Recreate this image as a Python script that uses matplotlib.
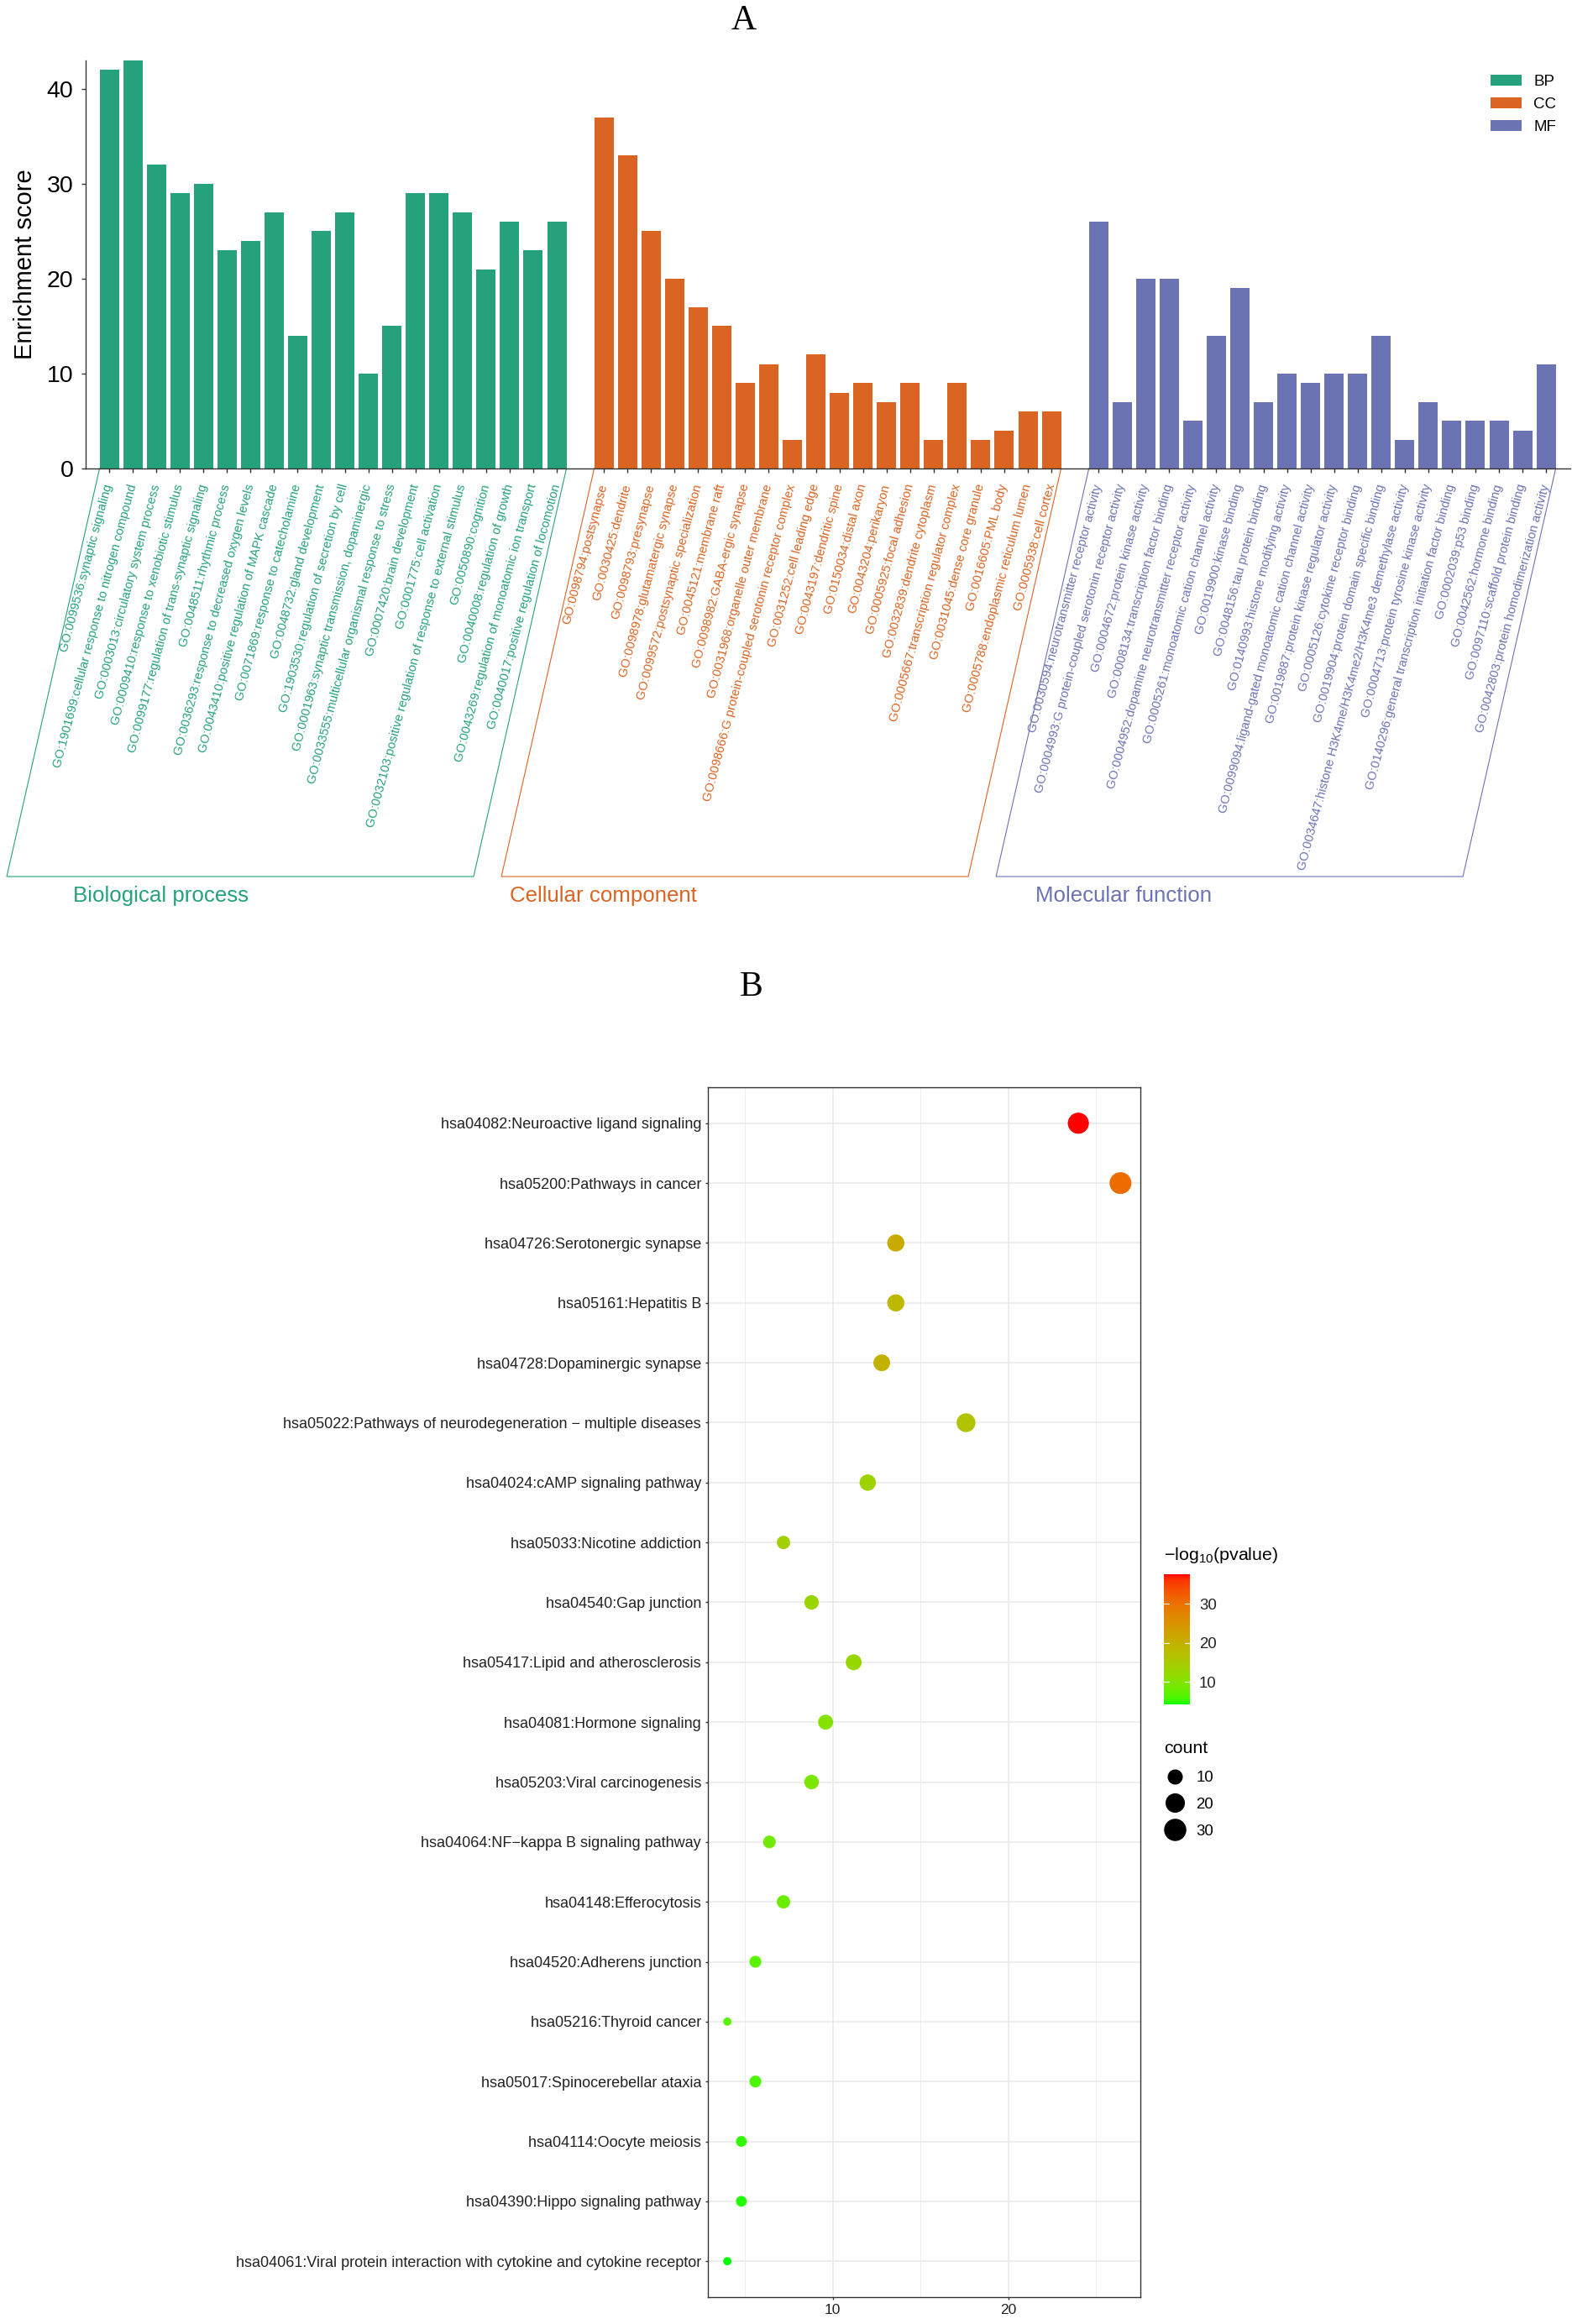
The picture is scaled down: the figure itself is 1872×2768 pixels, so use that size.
import numpy as np
import matplotlib
matplotlib.use("Agg")
import matplotlib.pyplot as plt
import matplotlib.transforms as mtransforms
from matplotlib.patches import Patch
from matplotlib.lines import Line2D
from matplotlib.colors import ListedColormap

plt.rcParams['font.family'] = ['Liberation Sans', 'DejaVu Sans']
plt.rcParams['mathtext.fontset'] = 'custom'
plt.rcParams['mathtext.rm'] = 'Liberation Sans'
plt.rcParams['mathtext.default'] = 'regular'

# ---------------- DATA : panel A (GO) ----------------
bp_terms = [
    "GO:0099536:synaptic signaling",
    "GO:1901699:cellular response to nitrogen compound",
    "GO:0003013:circulatory system process",
    "GO:0009410:response to xenobiotic stimulus",
    "GO:0099177:regulation of trans-synaptic signaling",
    "GO:0048511:rhythmic process",
    "GO:0036293:response to decreased oxygen levels",
    "GO:0043410:positive regulation of MAPK cascade",
    "GO:0071869:response to catecholamine",
    "GO:0048732:gland development",
    "GO:1903530:regulation of secretion by cell",
    "GO:0001963:synaptic transmission, dopaminergic",
    "GO:0033555:multicellular organismal response to stress",
    "GO:0007420:brain development",
    "GO:0001775:cell activation",
    "GO:0032103:positive regulation of response to external stimulus",
    "GO:0050890:cognition",
    "GO:0040008:regulation of growth",
    "GO:0043269:regulation of monoatomic ion transport",
    "GO:0040017:positive regulation of locomotion",
]
bp_scores = [42, 43, 32, 29, 30, 23, 24, 27, 14, 25, 27, 10, 15, 29, 29, 27, 21, 26, 23, 26]

cc_terms = [
    "GO:0098794:postsynapse",
    "GO:0030425:dendrite",
    "GO:0098793:presynapse",
    "GO:0098978:glutamatergic synapse",
    "GO:0099572:postsynaptic specialization",
    "GO:0045121:membrane raft",
    "GO:0098982:GABA-ergic synapse",
    "GO:0031968:organelle outer membrane",
    "GO:0098666:G protein-coupled serotonin receptor complex",
    "GO:0031252:cell leading edge",
    "GO:0043197:dendritic spine",
    "GO:0150034:distal axon",
    "GO:0043204:perikaryon",
    "GO:0005925:focal adhesion",
    "GO:0032839:dendrite cytoplasm",
    "GO:0005667:transcription regulator complex",
    "GO:0031045:dense core granule",
    "GO:0016605:PML body",
    "GO:0005788:endoplasmic reticulum lumen",
    "GO:0005938:cell cortex",
]
cc_scores = [37, 33, 25, 20, 17, 15, 9, 11, 3, 12, 8, 9, 7, 9, 3, 9, 3, 4, 6, 6]

mf_terms = [
    "GO:0030594:neurotransmitter receptor activity",
    "GO:0004993:G protein-coupled serotonin receptor activity",
    "GO:0004672:protein kinase activity",
    "GO:0008134:transcription factor binding",
    "GO:0004952:dopamine neurotransmitter receptor activity",
    "GO:0005261:monoatomic cation channel activity",
    "GO:0019900:kinase binding",
    "GO:0048156:tau protein binding",
    "GO:0140993:histone modifying activity",
    "GO:0099094:ligand-gated monoatomic cation channel activity",
    "GO:0019887:protein kinase regulator activity",
    "GO:0005126:cytokine receptor binding",
    "GO:0019904:protein domain specific binding",
    "GO:0034647:histone H3K4me/H3K4me2/H3K4me3 demethylase activity",
    "GO:0004713:protein tyrosine kinase activity",
    "GO:0140296:general transcription initiation factor binding",
    "GO:0002039:p53 binding",
    "GO:0042562:hormone binding",
    "GO:0097110:scaffold protein binding",
    "GO:0042803:protein homodimerization activity",
]
mf_scores = [26, 7, 20, 20, 5, 14, 19, 7, 10, 9, 10, 10, 14, 3, 7, 5, 5, 5, 4, 11]

group_keys = ["BP", "CC", "MF"]
group_names = ["Biological process", "Cellular component", "Molecular function"]
a_yticks = [0, 10, 20, 30, 40]

# ---------------- DATA : panel B (KEGG) ----------------
kegg_terms = [
    "hsa04082:Neuroactive ligand signaling",
    "hsa05200:Pathways in cancer",
    "hsa04726:Serotonergic synapse",
    "hsa05161:Hepatitis B",
    "hsa04728:Dopaminergic synapse",
    "hsa05022:Pathways of neurodegeneration \u2212 multiple diseases",
    "hsa04024:cAMP signaling pathway",
    "hsa05033:Nicotine addiction",
    "hsa04540:Gap junction",
    "hsa05417:Lipid and atherosclerosis",
    "hsa04081:Hormone signaling",
    "hsa05203:Viral carcinogenesis",
    "hsa04064:NF\u2212kappa B signaling pathway",
    "hsa04148:Efferocytosis",
    "hsa04520:Adherens junction",
    "hsa05216:Thyroid cancer",
    "hsa05017:Spinocerebellar ataxia",
    "hsa04114:Oocyte meiosis",
    "hsa04390:Hippo signaling pathway",
    "hsa04061:Viral protein interaction with cytokine and cytokine receptor",
]
kegg_x = [24.0, 26.4, 13.6, 13.6, 12.8, 17.6, 12.0, 7.2, 8.8, 11.2,
          9.6, 8.8, 6.4, 7.2, 5.6, 4.0, 5.6, 4.8, 4.8, 4.0]
kegg_count = [30, 33, 17, 17, 16, 22, 15, 9, 11, 14, 12, 11, 8, 9, 7, 5, 7, 6, 6, 5]
kegg_logp = [37.5, 30.5, 21.0, 18.5, 19.5, 16.5, 13.5, 14.0, 13.0, 12.5,
             10.5, 9.5, 8.5, 8.0, 7.0, 6.8, 6.2, 5.2, 4.8, 4.3]
b_xticks = [10, 20]
b_xminor = [5, 15, 25]
cbar_ticks = [10, 20, 30]
size_breaks = [10, 20, 30]

# ---------------- STYLE ----------------
W, H = 1872, 2768
colors = ['#25A17B', '#DA6422', '#6C73B3']
axis_col = '#333333'
BAR_W = 0.82


def fx(px):
    return px / W


def fy(px):
    return 1 - px / H


fig = plt.figure(figsize=(W / 100, H / 100), dpi=100)

# ================= PANEL A =================
axA = fig.add_axes([fx(102), fy(558), (1870 - 102) / W, (558 - 72) / H])
groups_terms = [bp_terms, cc_terms, mf_terms]
groups_scores = [bp_scores, cc_scores, mf_scores]
all_pos, all_labels, all_cols = [], [], []
start = 0
group_pos = []
for terms, scores, col in zip(groups_terms, groups_scores, colors):
    pos = np.arange(len(scores)) + start
    axA.bar(pos, scores, width=BAR_W, color=col, edgecolor='none', zorder=2)
    group_pos.append(pos)
    all_pos.extend(pos)
    all_labels.extend(terms)
    all_cols.extend([col] * len(terms))
    start += len(scores) + 1

axA.set_xlim(-1, all_pos[-1] + 1.03)
axA.set_ylim(0, max(max(s) for s in groups_scores))
for s in ['top', 'right']:
    axA.spines[s].set_visible(False)
for s in ['left', 'bottom']:
    axA.spines[s].set_color(axis_col)
    axA.spines[s].set_linewidth(1.0)
axA.set_yticks(a_yticks)
axA.tick_params(axis='y', labelsize=20.5, length=3.6, width=1, color=axis_col, pad=7)
axA.set_xticks(all_pos)
axA.set_xticklabels(all_labels, rotation=75, ha='right', va='center',
                    rotation_mode='anchor', fontsize=10.6)
axA.tick_params(axis='x', length=3.6, width=1, color=axis_col, pad=10)
for lab, col in zip(axA.get_xticklabels(), all_cols):
    lab.set_color(col)
axA.set_ylabel('Enrichment score', fontsize=21, labelpad=8)

blend = mtransforms.blended_transform_factory(axA.transData, axA.transAxes)
OFF = 3.94
text_x = [-1.55, 17.02, 39.31]
for pos, col, name, tx in zip(group_pos, colors, group_names, text_x):
    x0 = pos[0] - BAR_W / 2
    x1 = pos[-1] + BAR_W / 2
    axA.plot([x0, x0 - OFF, x1 - OFF, x1], [0, -1.0, -1.0, 0], color=col,
             lw=0.8, transform=blend, clip_on=False)
    axA.text(tx, -1.047, name, color=col, fontsize=18.6, ha='left', va='center',
             transform=blend)

handles = [Patch(facecolor=c, edgecolor='none') for c in colors]
axA.legend(handles, group_keys, loc='upper left', bbox_to_anchor=(fx(1775), fy(89)),
           bbox_transform=fig.transFigure, frameon=False, fontsize=13.5,
           handlelength=1.97, handleheight=0.69, labelspacing=0.52,
           handletextpad=0.77, borderpad=0, borderaxespad=0)

fig.text(fx(886), fy(25), 'A', ha='center', va='center', fontsize=30,
         family=['Liberation Serif', 'DejaVu Serif'])
fig.text(fx(895), fy(1176), 'B', ha='center', va='center', fontsize=30,
         family=['Liberation Serif', 'DejaVu Serif'])


# ================= PANEL B =================
def srgb2lab(c):
    c = np.asarray(c, float)
    lin = np.where(c <= 0.04045, c / 12.92, ((c + 0.055) / 1.055) ** 2.4)
    M = np.array([[0.4124, 0.3576, 0.1805], [0.2126, 0.7152, 0.0722], [0.0193, 0.1192, 0.9505]])
    xyz = M @ lin / np.array([0.95047, 1.0, 1.08883])
    f = np.where(xyz > 0.008856, np.cbrt(xyz), 7.787 * xyz + 16 / 116)
    return np.array([116 * f[1] - 16, 500 * (f[0] - f[1]), 200 * (f[1] - f[2])])


def lab2srgb(lab):
    L, a, b = lab
    fy_ = (L + 16) / 116
    fx_ = fy_ + a / 500
    fz_ = fy_ - b / 200
    f = np.array([fx_, fy_, fz_])
    xyz = np.where(f ** 3 > 0.008856, f ** 3, (f - 16 / 116) / 7.787) * np.array([0.95047, 1.0, 1.08883])
    Minv = np.linalg.inv(np.array([[0.4124, 0.3576, 0.1805], [0.2126, 0.7152, 0.0722], [0.0193, 0.1192, 0.9505]]))
    lin = np.clip(Minv @ xyz, 0, 1)
    c = np.where(lin <= 0.0031308, 12.92 * lin, 1.055 * lin ** (1 / 2.4) - 0.055)
    return np.clip(c, 0, 1)


lab_lo = srgb2lab([0, 1, 0])
lab_hi = srgb2lab([1, 0, 0])
cmap = ListedColormap([lab2srgb(lab_lo * (1 - t) + lab_hi * t) for t in np.linspace(0, 1, 256)])

axB = fig.add_axes([fx(842.7), fy(2736), (1357.7 - 842.7) / W, (2736 - 1295) / H])
n = len(kegg_terms)
ypos = np.arange(n)[::-1]
cnt = np.array(kegg_count, float)
D_MIN, D_MAX = 9.75, 26.0  # point diameter range (px)


def diam(c):
    return D_MIN + (D_MAX - D_MIN) * np.sqrt((np.asarray(c, float) - cnt.min()) / (cnt.max() - cnt.min()))


sizes = (diam(cnt) * 0.72) ** 2
vmin, vmax = min(kegg_logp), max(kegg_logp)
sc = axB.scatter(kegg_x, ypos, s=sizes, c=kegg_logp, cmap=cmap, vmin=vmin, vmax=vmax,
                 edgecolors='none', zorder=3)
xr = max(kegg_x) - min(kegg_x)
axB.set_xlim(min(kegg_x) - 0.05 * xr, max(kegg_x) + 0.05 * xr)
axB.set_ylim(-0.6, n - 1 + 0.6)
axB.set_yticks(ypos)
axB.set_yticklabels(kegg_terms)
axB.set_xticks(b_xticks)
axB.set_xticks(b_xminor, minor=True)
axB.grid(True, which='major', color='#EBEBEB', lw=1.2, zorder=0)
axB.grid(True, which='minor', axis='x', color='#EBEBEB', lw=0.6, zorder=0)
axB.set_axisbelow(True)
for s in axB.spines.values():
    s.set_color(axis_col)
    s.set_linewidth(1.0)
axB.tick_params(axis='y', labelsize=13, length=2.5, width=1, color=axis_col,
                labelcolor='#222222', pad=3)
axB.tick_params(axis='x', which='major', labelsize=12.5, length=2.5, width=1,
                color=axis_col, labelcolor='#222222', pad=3)
axB.tick_params(axis='x', which='minor', length=0)

# colour bar
cax = fig.add_axes([fx(1385.7), fy(2030), 31 / W, 155 / H])
cb = fig.colorbar(sc, cax=cax)
cb.outline.set_visible(False)
cb.set_ticks(cbar_ticks)
cax.tick_params(length=0, labelsize=13.4, pad=8, labelcolor='#222222')
for t in cbar_ticks:
    cax.plot([0, 0.2], [t, t], color='white', lw=0.8)
    cax.plot([0.8, 1.0], [t, t], color='white', lw=0.8)
fig.text(fx(1386), fy(1852), '\u2212log$_{10}$(pvalue)', ha='left', va='center', fontsize=15.4)

# size legend
fig.text(fx(1386), fy(2083), 'count', ha='left', va='center', fontsize=15.4)
size_handles = [Line2D([], [], marker='o', linestyle='', color='black',
                       markersize=float(diam(b)) * 0.72) for b in size_breaks]
leg = fig.legend(size_handles, [str(b) for b in size_breaks], loc='upper left',
                 bbox_to_anchor=(fx(1386), fy(2109)), frameon=False, fontsize=13.4,
                 handlelength=1.4, handletextpad=0.65, labelspacing=0.8,
                 borderpad=0, borderaxespad=0)

fig.savefig('out.png', dpi=100)
